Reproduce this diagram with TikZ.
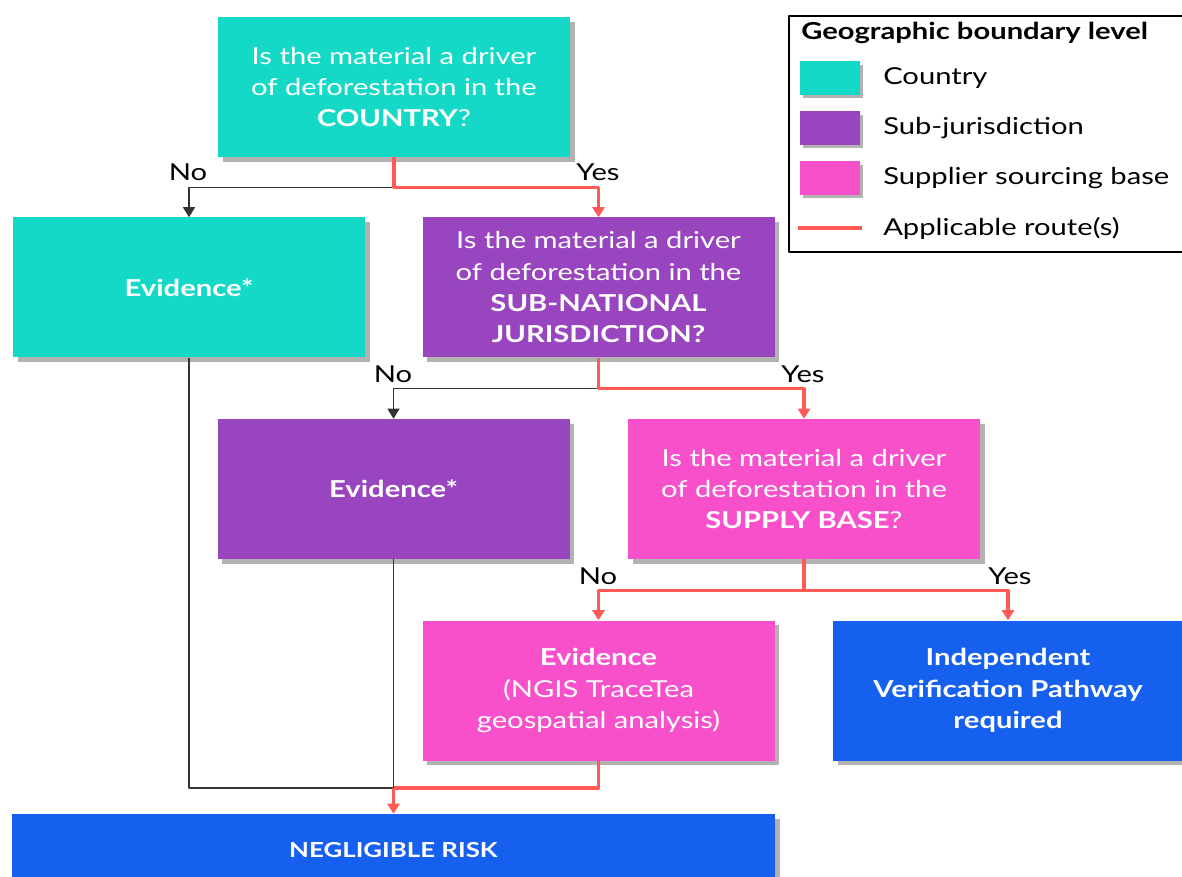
\documentclass[tikz,border=0pt]{standalone}
\usepackage{fontspec}
\setmainfont[FakeStretch=1.25]{Lato}
\usetikzlibrary{arrows.meta,shadows}
\definecolor{country}{HTML}{14D9C6}
\definecolor{subjur}{HTML}{9945BF}
\definecolor{supply}{HTML}{F850CA}
\definecolor{result}{HTML}{1660F0}
\definecolor{route}{HTML}{FF5A55}
\definecolor{lineblack}{HTML}{333333}
\begin{document}
\begin{tikzpicture}[x=0.75pt,y=-0.75pt,line join=round,>={Triangle[width=9pt,length=7.5pt]}]
	\tikzset{box/.style={minimum width=264pt,minimum height=105pt,inner sep=0pt,text=white,align=center,
			font=\fontsize{17.5}{23.5}\selectfont,
			drop shadow={shadow xshift=3.5pt,shadow yshift=-3.5pt,opacity=0.3,fill=black}},
		swatch/.style={minimum width=45pt,minimum height=25pt,inner sep=0pt,
			drop shadow={shadow xshift=2.5pt,shadow yshift=-2.5pt,opacity=0.3,fill=black}},
		route/.style={draw=route,line width=2.3pt},
		plain/.style={draw=lineblack,line width=0.9pt},
		lab/.style={font=\fontsize{17.5}{20}\selectfont,inner sep=1pt}}
	\useasboundingbox (0,0) rectangle (1182,877);
	\clip (0,0) rectangle (1182,877);
	% questions and outcomes
	\node[box,fill=country] (q1) at (394,87) {Is the material a driver\\of deforestation in the\\\textbf{COUNTRY}?};
	\node[box,fill=country] (e1) at (189,287.5) {\textbf{Evidence*}};
	\node[box,fill=subjur] (q2) at (598.5,287.5) {Is the material a driver\\of deforestation in the\\\textbf{SUB-NATIONAL}\\\textbf{JURISDICTION?}};
	\node[box,fill=subjur] (e2) at (393.5,489) {\textbf{Evidence*}};
	\node[box,fill=supply] (q3) at (804,489) {Is the material a driver\\of deforestation in the\\\textbf{SUPPLY BASE}?};
	\node[box,fill=supply] (e3) at (598.5,690.5) {\textbf{Evidence}\\(NGIS TraceTea\\geospatial analysis)};
	\node[box,fill=result,minimum width=262.5pt] (ivp) at (1008,690.5) {\textbf{Independent}\\\textbf{Verification Pathway}\\\textbf{required}};
	\node[box,fill=result,minimum width=572pt,minimum height=54pt,font=\fontsize{15.5}{20}\selectfont] (nr) at (393.5,850) {\textbf{NEGLIGIBLE RISK}};
	% branch labels
	\node[lab] (no1) at (188,172) {No};
	\node[lab] (yes1) at (598,172) {Yes};
	\node[lab] (no2) at (393,374) {No};
	\node[lab] (yes2) at (803,374) {Yes};
	\node[lab] (no3) at (598,576) {No};
	\node[lab] (yes3) at (1010,576) {Yes};
	% connectors
	\coordinate (m) at (393.5,788);
	\draw[plain,->] (q1.south) ++(0,30) -| (e1.north);
	\draw[plain,->] (q2.south) ++(0,31) -| (e2.north);
	\draw[plain] (e1.south) |- (m);
	\draw[plain] (e2.south) -- (m);
	\draw[route,->] (q1.south) -- ++(0,30) -| (q2.north);
	\draw[route,->] (q2.south) -- ++(0,31) -| (q3.north);
	\draw[route,->] (q3.south) -- ++(0,31) -| (e3.north);
	\draw[route,->] (q3.south) ++(0,31) -| (ivp.north);
	\draw[route] (e3.south) |- (m);
	\draw[route,->] (m) -- (nr.north);
	% legend
	\draw[line width=1.3pt] (789,16) rectangle (1200,252);
	\node[anchor=west,inner sep=0pt,font=\fontsize{17.5}{20}\selectfont\bfseries] (lt) at (801,33) {Geographic boundary level};
	\foreach \y/\c/\t [count=\i] in {78/country/Country,128/subjur/Sub-jurisdiction,178/supply/Supplier sourcing base}
	{
		\node[swatch,fill=\c] (s\i) at (830,\y) {};
		\node[anchor=west,inner sep=0pt,font=\fontsize{17.5}{20}\selectfont] (t\i) at (883,\y) {\t};
	}
	\coordinate (r1) at (798,228);
	\coordinate (r2) at (862,228);
	\draw[route,line width=3.5pt] (r1) -- (r2);
	\node[anchor=west,inner sep=0pt,font=\fontsize{17.5}{20}\selectfont] (t4) at (883,228) {Applicable route(s)};
\end{tikzpicture}
\end{document}
